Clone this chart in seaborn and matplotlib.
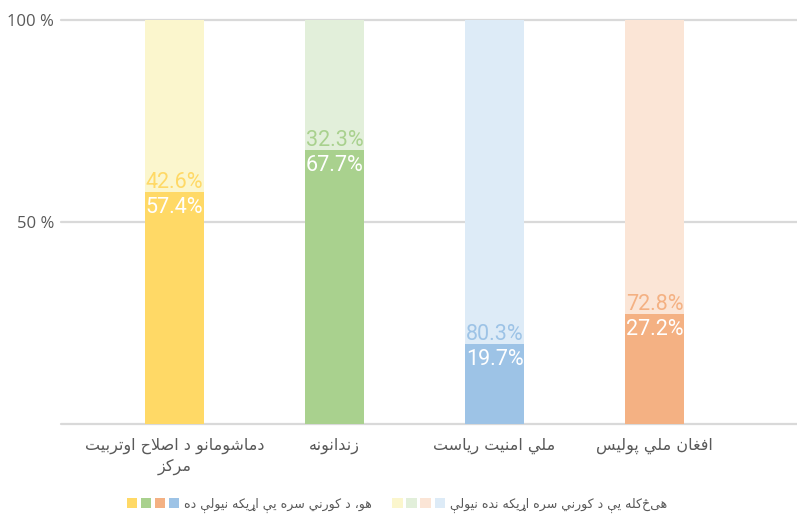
import matplotlib
matplotlib.use("Agg")
import matplotlib.pyplot as plt
import seaborn as sns
import pandas as pd
from matplotlib import font_manager
from matplotlib.ft2font import FT2Font
from matplotlib.patches import Patch
from matplotlib.legend_handler import HandlerTuple

# Chart data
categories = ["دماشومانو د اصلاح اوتربیت\nمرکز", "زندانونه", "ملي امنیت ریاست", "افغان ملي پولیس"]
yes_pct = [57.4, 67.7, 19.7, 27.2]
never_pct = [42.6, 32.3, 80.3, 72.8]
series_names = ["هو، د کورنۍ سره یې اړیکه نیولې ده", "هیڅکله یې د کورنۍ سره اړیکه نده نیولې"]
y_ticks = [0, 50, 100]
y_tick_labels = ["", "50 %", "100 %"]

dark_colors = ["#FFD966", "#A9D18E", "#9DC3E6", "#F4B183"]
light_colors = ["#FBF6CD", "#E2EFDA", "#DDEBF7", "#FBE5D6"]
# legend swatch order as in the original
legend_dark = ["#FFD966", "#A9D18E", "#F4B183", "#9DC3E6"]
legend_light = ["#FBF6CD", "#E2EFDA", "#FBE5D6", "#DDEBF7"]

GRAY = "#595959"

# --- minimal Arabic/Pashto shaping (matplotlib has no text shaping) ---
arabic_font = font_manager.findfont("DejaVu Sans")
cmap = FT2Font(arabic_font).get_charmap()

FORMS = {}
start = 0xFE80
for ch, n in zip("ءآأؤإئابةتثجحخدذرزسشصضطظعغفقكلمنهوىي",
                 [1, 2, 2, 2, 2, 4, 2, 4, 2, 4, 4, 4, 4, 4, 2, 2, 2, 2, 4, 4, 4, 4, 4, 4, 4, 4, 4, 4, 4, 4, 4, 4, 4, 2, 2, 4]):
    FORMS[ch] = tuple(range(start, start + n))
    start += n
for ch, s, n in [("پ", 0xFB56, 4), ("چ", 0xFB7A, 4), ("ژ", 0xFB8A, 2), ("ک", 0xFB8E, 4),
                 ("گ", 0xFB92, 4), ("ی", 0xFBFC, 4), ("ې", 0xFBE4, 4)]:
    FORMS[ch] = tuple(range(s, s + n))
# yeh with tail has no glyph in DejaVu: draw it with the closest yeh forms
if 0x06CD not in cmap:
    FORMS["ۍ"] = (0xFEF1, 0xFEF2)
FORMS = {k: v for k, v in FORMS.items() if all(c in cmap for c in v)}
LAM_ALEF = {"آ": (0xFEF5, 0xFEF6), "أ": (0xFEF7, 0xFEF8), "إ": (0xFEF9, 0xFEFA), "ا": (0xFEFB, 0xFEFC)}
LAM_ALEF = {k: v for k, v in LAM_ALEF.items() if all(c in cmap for c in v)}


def shape_line(line):
    out = []
    i = 0
    while i < len(line):
        ch = line[i]
        prev = line[i - 1] if i > 0 else ""
        joins_prev = len(FORMS.get(prev, ())) == 4
        if ch == "ل" and "ل" in FORMS and i + 1 < len(line) and line[i + 1] in LAM_ALEF:
            iso, fin = LAM_ALEF[line[i + 1]]
            out.append(chr(fin if joins_prev else iso))
            i += 2
            continue
        forms = FORMS.get(ch)
        if forms is None or len(forms) == 1:
            out.append(chr(forms[0]) if forms else ch)
            i += 1
            continue
        nxt = line[i + 1] if i + 1 < len(line) else ""
        joins_next = len(forms) == 4 and len(FORMS.get(nxt, ())) >= 2
        if joins_prev and joins_next:
            cp = forms[3]
        elif joins_prev:
            cp = forms[1]
        elif joins_next:
            cp = forms[2]
        else:
            cp = forms[0]
        out.append(chr(cp))
        i += 1
    return "".join(reversed(out))


def shape(text):
    return "\n".join(shape_line(l) for l in text.split("\n"))


sns.set_style("white")
plt.rcParams["font.family"] = ["DejaVu Sans"]

df = pd.DataFrame({"category": [shape(c) for c in categories], "yes": yes_pct, "never": never_pct})
df["total"] = df["yes"] + df["never"]

fig = plt.figure(figsize=(7.97, 5.20), dpi=100)
ax = fig.add_axes([61 / 797, 96 / 520, 736 / 797, 404 / 520])

sns.barplot(data=df, x="category", y="total", hue="category", palette=light_colors,
            width=0.37, saturation=1, linewidth=0, legend=False, ax=ax)
sns.barplot(data=df, x="category", y="yes", hue="category", palette=dark_colors,
            width=0.37, saturation=1, linewidth=0, legend=False, ax=ax)

label_font = dict(family="Roboto", fontsize=15.5, fontweight="normal")
for i, row in df.iterrows():
    ax.annotate(f"{row['yes']:.1f}%", xy=(i, row["yes"]), xytext=(0, -3.5), textcoords="offset points",
                ha="center", va="top", color="white", **label_font)
    ax.annotate(f"{row['never']:.1f}%", xy=(i, row["yes"]), xytext=(0, 3), textcoords="offset points",
                ha="center", va="baseline", color=dark_colors[i], **label_font)

ax.set_xlim(-0.71, 3.89)
ax.set_ylim(0, 100)
ax.set_yticks(y_ticks)
ax.set_yticklabels(y_tick_labels, family="Open Sans", fontsize=12, color=GRAY)
ax.tick_params(axis="both", length=0)
ax.tick_params(axis="y", pad=5)
ax.tick_params(axis="x", pad=10, labelsize=11.5, labelcolor=GRAY)
for t in ax.get_xticklabels():
    t.set_linespacing(1.35)
ax.set_xlabel("")
ax.set_ylabel("")
ax.yaxis.grid(True, color="#D9D9D9", linewidth=1.6)
ax.xaxis.grid(False)
ax.set_axisbelow(True)
sns.despine(ax=ax, left=True, bottom=True)
for gl in ax.get_ygridlines():
    gl.set_clip_on(False)

handles = [tuple(Patch(facecolor=c, linewidth=0) for c in legend_dark),
           tuple(Patch(facecolor=c, linewidth=0) for c in legend_light)]
fig.legend(handles, [shape(s) for s in series_names], loc="center",
           bbox_to_anchor=(397 / 797, 1 - 505 / 520), ncol=2, frameon=False,
           fontsize=9, labelcolor=GRAY, handlelength=4.2, handleheight=0.8,
           handletextpad=0.4, columnspacing=1.6,
           handler_map={tuple: HandlerTuple(ndivide=None, pad=0.3)})

fig.savefig("out.png", dpi=100)
